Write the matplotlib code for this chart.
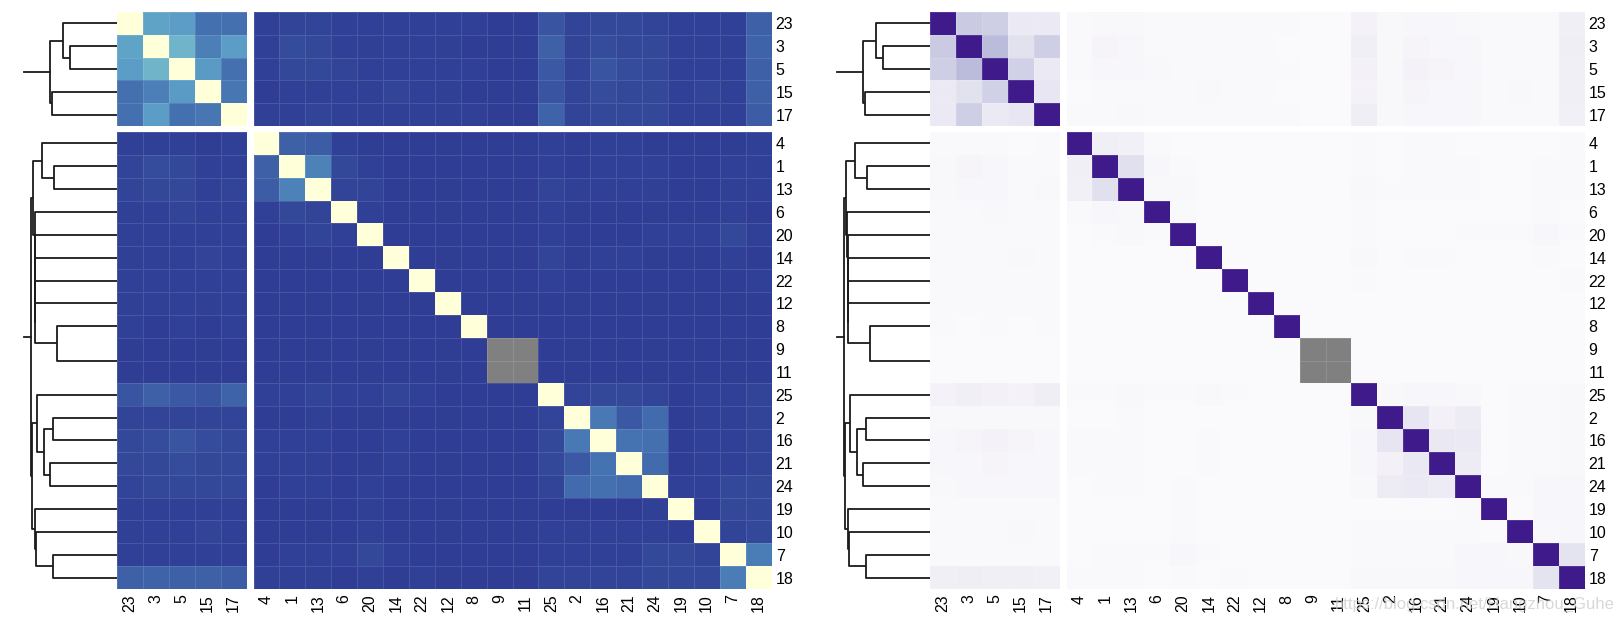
import matplotlib.pyplot as plt
import numpy as np
from matplotlib.colors import LinearSegmentedColormap

plt.rcParams['font.family'] = ['Liberation Sans', 'DejaVu Sans']

# clustered order of rows / columns (same for both axes)
labels = ['23', '3', '5', '15', '17', '4', '1', '13', '6', '20', '14', '22', '12',
          '8', '9', '11', '25', '2', '16', '21', '24', '19', '10', '7', '18']
n_split = 5  # first slice has 5 rows / cols
missing_diag = ['9', '11']
nan = np.nan

# upper triangle, row by row (values right of the diagonal)
upper = [
    [.32, .30, .15, .15, .03, .04, .04, .03, .03, .03, .03, .03, .03, .02, .02, .08, .04, .05, .05, .04, .03, .03, .03, .11],
    [.38, .20, .30, .03, .06, .05, .03, .03, .03, .03, .03, .02, .02, .02, .11, .04, .06, .05, .05, .03, .03, .03, .12],
    [.29, .15, .03, .05, .05, .04, .03, .03, .03, .03, .03, .02, .02, .09, .04, .08, .06, .05, .03, .03, .03, .11],
    [.17, .02, .03, .03, .03, .03, .04, .03, .03, .02, .02, .02, .08, .04, .06, .05, .05, .03, .04, .03, .11],
    [.03, .03, .04, .03, .03, .03, .03, .03, .03, .02, .02, .12, .04, .05, .05, .05, .03, .03, .03, .10],
    [.11, .10, .03, .02, .02, .02, .02, .02, .02, .02, .03, .02, .03, .03, .02, .02, .02, .02, .03],
    [.21, .05, .03, .02, .02, .02, .02, .02, .02, .03, .02, .03, .03, .03, .02, .02, .03, .03],
    [.04, .04, .02, .02, .02, .02, .02, .02, .04, .03, .03, .03, .03, .02, .02, .03, .03],
    [.03, .02, .02, .02, .02, .02, .02, .03, .02, .02, .02, .02, .02, .02, .03, .02],
    [.02, .02, .02, .02, .02, .02, .03, .02, .02, .02, .03, .03, .03, .05, .03],
    [.02, .02, .02, .02, .02, .04, .02, .03, .03, .02, .02, .02, .03, .02],
    [.02, .02, .02, .02, .03, .02, .02, .02, .02, .02, .02, .02, .03],
    [.02, .02, .02, .02, .02, .02, .02, .02, .02, .02, .02, .02],
    [.02, .02, .02, .02, .02, .02, .02, .02, .02, .02, .02],
    [nan, .02, .02, .02, .02, .02, .02, .02, .02, .02],
    [.02, .02, .02, .02, .02, .02, .02, .02, .02],
    [.04, .05, .05, .04, .02, .03, .03, .04],
    [.18, .09, .14, .02, .03, .03, .04],
    [.16, .15, .02, .03, .03, .04],
    [.14, .02, .03, .03, .04],
    [.03, .03, .05, .05],
    [.02, .05, .05],
    [.04, .05],
    [.19],
]

# dendrograms (left, right, height)
tree_top = (('23', ('3', '5', 47), 54.3), ('15', '17', 64.7), 67)
tree_bottom = (
    (('4', ('1', '13', 62.7), 75.3),
     ('6', ('20', ('14', ('22', ('12', ('8', ('9', '11', 0), 59.7), 81.7), 81.8), 81.9), 82.0), 82.5),
     83.7),
    (('25', (('2', '16', 64.3), ('21', '24', 67), 73.3), 80.3),
     ('19', ('10', ('7', '18', 64.3), 81.3), 82),
     84.7),
    86.3)
stub_height = 93

n = len(labels)
mat = np.ones((n, n))
for i, row in enumerate(upper):
    for k, v in enumerate(row):
        mat[i, i + 1 + k] = v
        mat[i + 1 + k, i] = v
for lab in missing_diag:
    mat[labels.index(lab), labels.index(lab)] = nan

cmap_blue = LinearSegmentedColormap.from_list(
    'blue', [(0, '#2c3590'), (0.15, '#4470b0'), (0.3, '#5b9ec6'), (0.4, '#74b9c9'),
             (0.65, '#c2e3bc'), (1, '#ffffd9')])
cmap_purple = LinearSegmentedColormap.from_list(
    'purple', ['#fcfbfd', '#efedf5', '#dadaeb', '#bcbddc', '#9e9ac8', '#807dba',
               '#6a51a3', '#54278f', '#3f1a8a'])
for cm in (cmap_blue, cmap_purple):
    cm.set_bad('#808080')

W, H = 1621, 619
fig = plt.figure(figsize=(W / 100, H / 100), dpi=100)


def px(x0, y0, x1, y1):
    return fig.add_axes([x0 / W, 1 - y1 / H, (x1 - x0) / W, (y1 - y0) / H])


def draw_tree(ax, node, pos):
    if isinstance(node, str):
        return pos[node], 0.0
    a, b, h = node
    ya, ha = draw_tree(ax, a, pos)
    yb, hb = draw_tree(ax, b, pos)
    if h > 0:
        ax.plot([ha, h, h, hb], [ya, ya, yb, yb], color='#1a1a1a', lw=1.3,
                solid_capstyle='butt', clip_on=False)
    return (ya + yb) / 2, h


cw = 25.9
row_y = [(12, 126), (132, 589)]
slices = [labels[:n_split], labels[n_split:]]
trees = [tree_top, tree_bottom]

for x_heat, cmap in [(117, cmap_blue), (930, cmap_purple)]:
    col_x = [(x_heat, x_heat + n_split * cw),
             (x_heat + n_split * cw + 7, x_heat + n_split * cw + 7 + (n - n_split) * cw)]
    for r, (y0, y1) in enumerate(row_y):
        rlabs = slices[r]
        ri = [labels.index(l) for l in rlabs]

        # dendrogram
        dax = px(x_heat - stub_height, y0, x_heat, y1)
        pos = {l: i + 0.5 for i, l in enumerate(rlabs)}
        ymid, hroot = draw_tree(dax, trees[r], pos)
        dax.plot([hroot, stub_height], [ymid, ymid], color='#1a1a1a', lw=1.3, clip_on=False)
        dax.set_xlim(stub_height, 0)
        dax.set_ylim(len(rlabs), 0)
        dax.axis('off')

        for c, (x0, x1) in enumerate(col_x):
            clabs = slices[c]
            ci = [labels.index(l) for l in clabs]
            sub = np.ma.masked_invalid(mat[np.ix_(ri, ci)])
            ax = px(x0, y0, x1, y1)
            ax.pcolormesh(np.arange(len(clabs) + 1), np.arange(len(rlabs) + 1), sub,
                          cmap=cmap, vmin=0, vmax=1,
                          edgecolors=(1, 1, 1, 0.12), linewidth=0.5)
            ax.set_xlim(0, len(clabs))
            ax.set_ylim(len(rlabs), 0)
            for s in ax.spines.values():
                s.set_visible(False)
            ax.tick_params(length=0, labelsize=11.5)
            if r == 1:
                ax.set_xticks(np.arange(len(clabs)) + 0.5)
                ax.set_xticklabels(clabs, rotation=90)
                ax.tick_params(axis='x', pad=4)
            else:
                ax.set_xticks([])
            if c == 1:
                ax.yaxis.tick_right()
                ax.set_yticks(np.arange(len(rlabs)) + 0.5)
                ax.set_yticklabels(rlabs)
                ax.tick_params(axis='y', pad=3)
            else:
                ax.set_yticks([])

fig.text(1335 / W, 1 - 604 / H, 'https://blog.csdn.net/Hangzhou_Guhe', fontsize=12,
         color='#c8c8c8', alpha=0.7, va='center', ha='left')

fig.savefig('out.png', dpi=100)
